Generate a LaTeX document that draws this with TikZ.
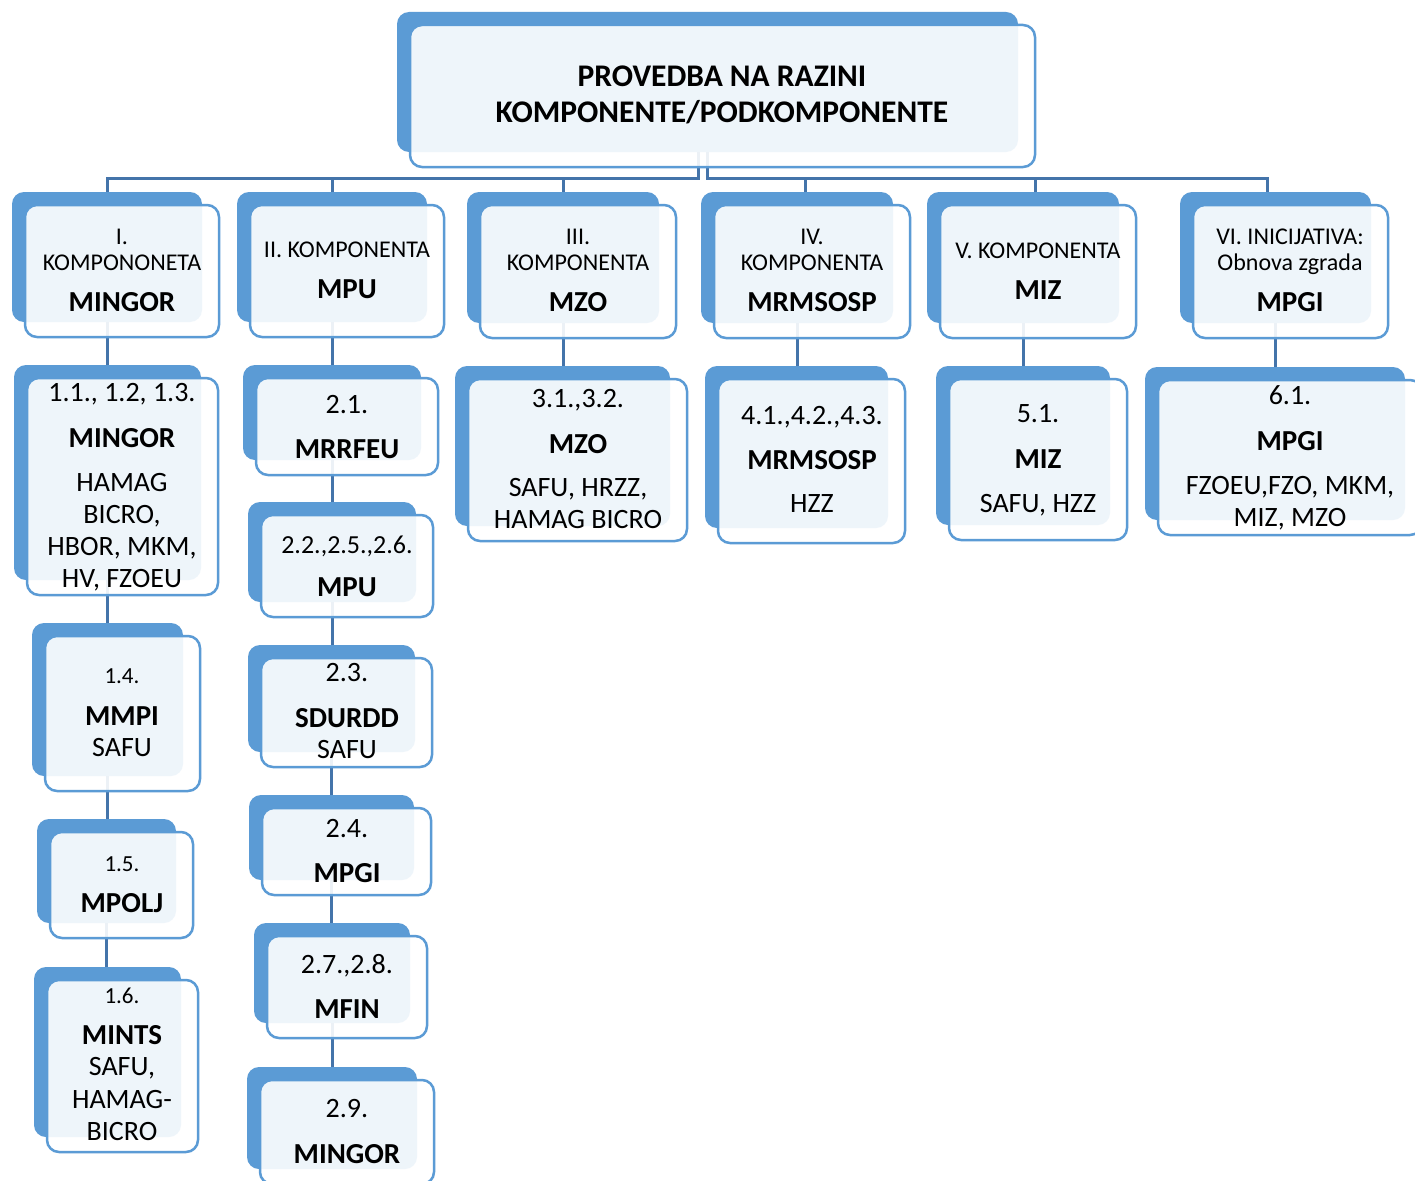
\documentclass[tikz,border=0pt]{standalone}
\usepackage{fontspec}
\setmainfont{Carlito}
\definecolor{boxblue}{RGB}{91,155,213}
\definecolor{linecol}{RGB}{68,116,170}
\pgfdeclarelayer{backl}
\pgfdeclarelayer{connl}
\pgfsetlayers{backl,connl,main}
\tikzset{
  back/.style={fill=boxblue, draw=none, rounded corners=12pt, inner sep=0pt, outer sep=0pt},
  front/.style={draw=boxblue, line width=2.5pt, fill=white, fill opacity=0.9, rounded corners=12pt, inner sep=0pt, outer sep=0pt},
  conn/.style={draw=linecol, line width=3pt},
  tt/.style={font=\fontsize{31.5}{35}\bfseries\selectfont, anchor=base, yshift=-10pt, inner sep=0pt},
  ra/.style={font=\fontsize{24}{26}\selectfont, anchor=base, yshift=-7.6pt, inner sep=0pt},
  ba/.style={font=\fontsize{29}{32}\bfseries\selectfont, anchor=base, yshift=-9.2pt, inner sep=0pt},
  rb/.style={font=\fontsize{28}{32}\selectfont, anchor=base, yshift=-8.8pt, inner sep=0pt},
  rs/.style={font=\fontsize{23}{26}\selectfont, anchor=base, yshift=-7.3pt, inner sep=0pt},
  rm/.style={font=\fontsize{26}{30}\selectfont, anchor=base, yshift=-8.2pt, inner sep=0pt},
}
% #1 name, #2 x1, #3 y1, #4 x2, #5 y2 of the front rectangle
\newcommand\mybox[5]{%
  \begin{pgfonlayer}{backl}
    \node[back, minimum width={(#4-#2-4)*1pt}, minimum height={(#5-#3-2)*1pt}] (b#1) at ({(#2+#4-30)/2},{(#3+#5-28)/2}) {};
  \end{pgfonlayer}
  \node[front, minimum width={(#4-#2)*1pt}, minimum height={(#5-#3)*1pt}] (f#1) at ({(#2+#4)/2},{(#3+#5)/2}) {};
}
\begin{document}
\begin{tikzpicture}[x=1pt,y=-1pt]
\useasboundingbox (0,0) rectangle (1415,1180);
\begin{pgfonlayer}{backl}
\fill[white] (0,0) rectangle (1415,1180);
\end{pgfonlayer}

% boxes
\mybox{0}{410}{25}{1035}{167}
\mybox{1}{25}{205}{219}{337}
\mybox{2}{250}{205}{444}{337}
\mybox{3}{480}{205}{676}{338}
\mybox{4}{714}{205}{910}{338}
\mybox{5}{940}{205}{1136}{338}
\mybox{6}{1193}{205}{1388}{338}
\mybox{11}{27}{378}{218}{595}
\mybox{14}{45}{636}{200}{791}
\mybox{15}{50}{832}{193}{938}
\mybox{16}{47}{980}{198}{1152}
\mybox{21}{256}{378}{438}{475}
\mybox{22}{261}{515}{433}{617}
\mybox{23}{261}{658}{432}{767}
\mybox{24}{262}{808}{431}{895}
\mybox{27}{267}{936}{427}{1038}
\mybox{29}{260}{1080}{434}{1184}
\mybox{31}{468}{379}{687}{541}
\mybox{41}{718}{379}{905}{543}
\mybox{51}{949}{379}{1127}{540}
\mybox{61}{1158}{380}{1422}{535}

% connectors
\begin{pgfonlayer}{connl}
\coordinate (hl) at (0,178);
\draw[conn] ([xshift=-9pt]b0.south) |- (b1.north |- hl) -- (b1.north);
\draw[conn] (b2.north |- hl) -- (b2.north);
\draw[conn] (b3.north |- hl) -- (b3.north);
\draw[conn] (b0.south) |- ([xshift=-8pt]b6.north |- hl) -- ([xshift=-8pt]b6.north);
\draw[conn] ([xshift=8pt]b4.north |- hl) -- ([xshift=8pt]b4.north);
\draw[conn] ([xshift=12pt]b5.north |- hl) -- ([xshift=12pt]b5.north);
\draw[conn] (b1.south) -- (b1.south |- b11.north);
\draw[conn] (b11.south) -- (b11.south |- b14.north);
\draw[conn] (b14.south) -- (b14.south |- b15.north);
\draw[conn] (b15.south) -- (b15.south |- b16.north);
\draw[conn] (b2.south) -- (b2.south |- b21.north);
\draw[conn] (b21.south) -- (b21.south |- b22.north);
\draw[conn] (b22.south) -- (b22.south |- b23.north);
\draw[conn] (b23.south) -- (b23.south |- b24.north);
\draw[conn] (b24.south) -- (b24.south |- b27.north);
\draw[conn] (b27.south) -- (b27.south |- b29.north);
\draw[conn] (b3.south) -- (b3.south |- b31.north);
\draw[conn] (b4.south) -- (b4.south |- b41.north);
\draw[conn] (b5.south) -- (b5.south |- b51.north);
\draw[conn] (b6.south) -- (b6.south |- b61.north);
\end{pgfonlayer}

% texts
\node[tt] (t0a) at (722,77) {PROVEDBA NA RAZINI};
\node[tt] (t0b) at (722,112) {KOMPONENTE/PODKOMPONENTE};

\node[ra] (t1a) at (122,237) {I.};
\node[ra] (t1b) at (122,263) {KOMPONONETA};
\node[ba] (t1c) at (122,302) {MINGOR};
\node[ra] (t2a) at (347,250) {II. KOMPONENTA};
\node[ba] (t2b) at (347,289) {MPU};
\node[ra] (t3a) at (578,237) {III.};
\node[ra] (t3b) at (578,263) {KOMPONENTA};
\node[ba] (t3c) at (578,302) {MZO};
\node[ra] (t4a) at (812,237) {IV.};
\node[ra] (t4b) at (812,263) {KOMPONENTA};
\node[ba] (t4c) at (812,302) {MRMSOSP};
\node[ra] (t5a) at (1038,251) {V. KOMPONENTA};
\node[ba] (t5b) at (1038,290) {MIZ};
\node[ra] (t6a) at (1290,237) {VI. INICIJATIVA:};
\node[ra] (t6b) at (1290,263) {Obnova zgrada};
\node[ba] (t6c) at (1290,302) {MPGI};

\node[rb] (t11a) at (122,393) {1.1., 1.2, 1.3.};
\node[ba] (t11b) at (122,438) {MINGOR};
\node[rb] (t11c) at (122,483) {HAMAG};
\node[rb] (t11d) at (122,515) {BICRO,};
\node[rb] (t11e) at (122,547) {HBOR, MKM,};
\node[rb] (t11f) at (122,579) {HV, FZOEU};

\node[rb] (t21a) at (347,405) {2.1.};
\node[ba] (t21b) at (347,449) {MRRFEU};
\node[rm] (t22a) at (347,545) {2.2.,2.5.,2.6.};
\node[ba] (t22b) at (347,587) {MPU};

\node[rb] (t31a) at (578,399) {3.1.,3.2.};
\node[ba] (t31b) at (578,444) {MZO};
\node[rb] (t31c) at (578,488) {SAFU, HRZZ,};
\node[rb] (t31d) at (578,520) {HAMAG BICRO};

\node[rb] (t41a) at (812,416) {4.1.,4.2.,4.3.};
\node[ba] (t41b) at (812,460) {MRMSOSP};
\node[rb] (t41c) at (812,504) {HZZ};

\node[rb] (t51a) at (1038,414) {5.1.};
\node[ba] (t51b) at (1038,459) {MIZ};
\node[rb] (t51c) at (1038,504) {SAFU, HZZ};

\node[rb] (t61a) at (1290,396) {6.1.};
\node[ba] (t61b) at (1290,441) {MPGI};
\node[rb] (t61c) at (1290,486) {FZOEU,FZO, MKM,};
\node[rb] (t61d) at (1290,518) {MIZ, MZO};

\node[rs] (t14a) at (122,676) {1.4.};
\node[ba] (t14b) at (122,716) {MMPI};
\node[rb] (t14c) at (122,748) {SAFU};
\node[rs] (t15a) at (122,864) {1.5.};
\node[ba] (t15b) at (122,903) {MPOLJ};
\node[rs] (t16a) at (122,996) {1.6.};
\node[ba] (t16b) at (122,1035) {MINTS};
\node[rb] (t16c) at (122,1067) {SAFU,};
\node[rb] (t16d) at (122,1100) {HAMAG-};
\node[rb] (t16e) at (122,1132) {BICRO};

\node[rb] (t23a) at (347,673) {2.3.};
\node[ba] (t23b) at (347,718) {SDURDD};
\node[rb] (t23c) at (347,750) {SAFU};
\node[rb] (t24a) at (347,829) {2.4.};
\node[ba] (t24b) at (347,873) {MPGI};
\node[rb] (t27a) at (347,965) {2.7.,2.8.};
\node[ba] (t27b) at (347,1009) {MFIN};
\node[rb] (t29a) at (347,1109) {2.9.};
\node[ba] (t29b) at (347,1154) {MINGOR};
\end{tikzpicture}
\end{document}
